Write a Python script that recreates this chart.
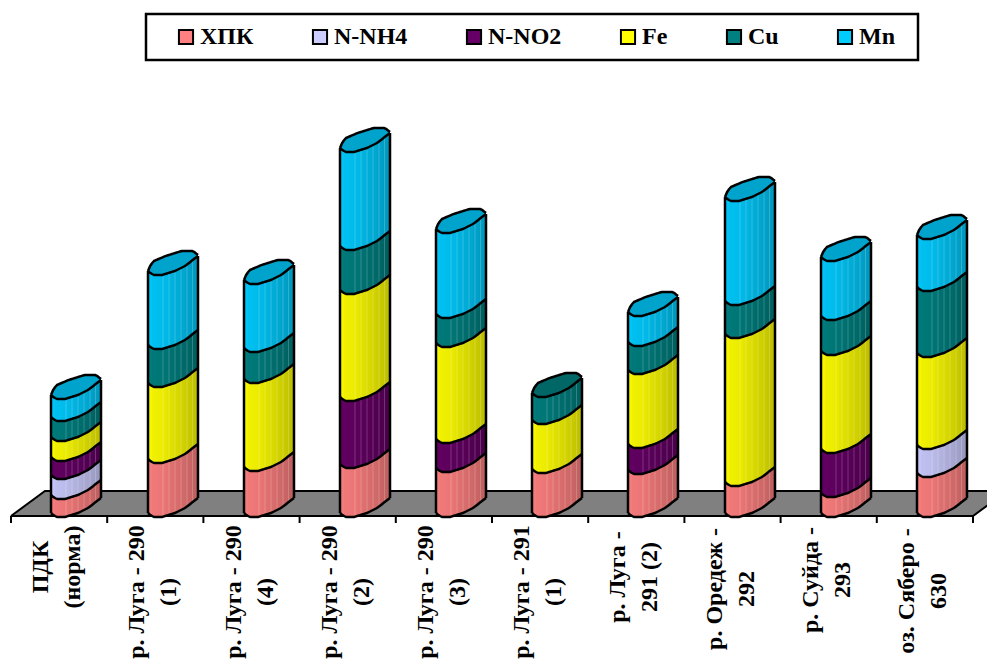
import numpy as np, pandas as pd, altair as alt

CATS = [["ПДК","(норма)"],["р. Луга - 290","(1)"],["р. Луга - 290","(4)"],["р. Луга - 290","(2)"],
        ["р. Луга - 290","(3)"],["р. Луга - 291","(1)"],["р. Луга -","291 (2)"],["р. Оредеж -","292"],
        ["р. Суйда -","293"],["оз. Сяберо -","630"]]
LABEL_MID = [-51,-76,-76,-76,-76,-76,-61,-73,-64,-75]
SERIES = ["ХПК","N-NH4","N-NO2","Fe","Cu","Mn"]
COLORS = ["#FF8080","#CCCCFF","#660066","#FFFF00","#008080","#00CCFF"]
XPK  = [18,54,46,49,45,44,43,31,20,40]
NH4  = [20,0,0,0,0,0,0,0,0,28]
NO2  = [18,0,0,67,29,0,26,0,44,0]
FE   = [20,76,88,107,96,49,74,148,98,92]
CU   = [20,38,31,44,29,27,28,33,35,66]
MN   = [22,74,68,98,85,0,30,104,59,52]
VALUES = [XPK,NH4,NO2,FE,CU,MN]
BASE = 3
LOW_T=[0,.06,.12,.28,.54,.74,1]; LOW_O=[0,-2.5,-4,-4,0,5,15]
UP_T=[0,.05,.12,.35,.67,.9,1]; UP_O=[0,6,10,15,20,20,16]
SHADE_T=[0,.1,.3,.42,.54,.66,.78,.89,1]; SHADE_O=[0,.06,.08,.11,.14,.17,.2,.23,.27]
BAND_T=[.3,.42,.54,.66,.78,.89]
TS = np.linspace(0,1,26)
PITCH=96.2; W=50/PITCH
lo=lambda t: np.interp(t,LOW_T,LOW_O); up=lambda t: np.interp(t,UP_T,UP_O)
strips=[];lines=[];caps=[];pale=[]
for i in range(len(CATS)):
    x0=(round(51.3+PITCH*i)-11)/PITCH
    v=BASE; last=None; curves=[v]
    for s,ser in enumerate(SERIES):
        h=VALUES[s][i]
        if h<=0: continue
        for a,b in zip(TS[:-1],TS[1:]):
            m=(a+b)/2
            strips.append(dict(x=x0+W*a,x2=x0+W*b,y=v+lo(m),y2=v+h+lo(m),s=ser,o=float(np.interp(m,SHADE_T,SHADE_O))))
        v+=h; last=ser; curves.append(v)
    for a,b in zip(TS[:-1],TS[1:]):
        m=(a+b)/2
        caps.append(dict(x=x0+W*a,x2=x0+W*b,y=v+lo(m),y2=v+up(m),s=last,o=.2))
    for t in BAND_T:
        pale.append(dict(x=x0+W*t,y=BASE+lo(t),y2=v+lo(t)))
    for k,c in enumerate(curves):
        for j,t in enumerate(TS):
            lines.append(dict(g=f"{i}c{k}",x=x0+W*t,y=c+lo(t),n=j))
    for j,t in enumerate(TS):
        lines.append(dict(g=f"{i}u",x=x0+W*t,y=v+up(t),n=j))
    lines += [dict(g=f"{i}l",x=x0,y=BASE,n=0),dict(g=f"{i}l",x=x0,y=v,n=1),
              dict(g=f"{i}r",x=x0+W,y=BASE+lo(1),n=0),dict(g=f"{i}r",x=x0+W,y=v+lo(1),n=1)]
strips=pd.DataFrame(strips); caps=pd.DataFrame(caps); lines=pd.DataFrame(lines); pale=pd.DataFrame(pale)
WID=979; H=652
XS=alt.Scale(domain=[-3/PITCH,(WID-3)/PITCH],nice=False,zero=False)
X=alt.X("x:Q",scale=XS,axis=None)
Y=alt.Y("y:Q",scale=alt.Scale(domain=[508-H,508],nice=False,zero=False),axis=None)
DEPTH=34/PITCH
fr=[]
for r in range(25):
    m=r+.5
    fr.append(dict(x=DEPTH*m/25,x2=10+DEPTH*m/25,y=r,y2=r+1))
floor=pd.DataFrame(fr)
fl=pd.DataFrame(dict(x=[0,DEPTH,10+DEPTH,10,0],y=[0,25,25,0,0],n=range(5)))
ticks=pd.DataFrame(dict(x=list(range(11)),y=[0]*11,y2=[-7]*11))
labs=[]
for i,c in enumerate(CATS):
    labs.append(dict(x=i+.5-18/PITCH,y=LABEL_MID[i],t=c[0]))
    labs.append(dict(x=i+.5+14/PITCH,y=LABEL_MID[i],t=c[1]))
labs=pd.DataFrame(labs)
box=pd.DataFrame(dict(x=[(146-11)/PITCH],x2=[(918-11)/PITCH],y=[516-14],y2=[516-60]))
FONT="Liberation Serif"
c_box=alt.Chart(box).mark_rect(fill="white",stroke="black",strokeWidth=2.5).encode(X,x2="x2:Q",y=Y,y2="y2:Q")
c_floor=alt.Chart(floor).mark_rect(color="#808080",clip=True).encode(X,x2="x2:Q",y=Y,y2="y2:Q")
c_fl=alt.Chart(fl).mark_line(color="black",strokeWidth=2,clip=True).encode(X,Y,order="n:Q")
c_ticks=alt.Chart(ticks).mark_rule(color="black",strokeWidth=2).encode(X,Y,y2="y2:Q")
legend=alt.Legend(title=None,orient="none",legendX=166,legendY=17,columns=6,gridAlign="each",columnPadding=54,
    symbolType="square",symbolSize=200,symbolStrokeColor="black",symbolStrokeWidth=2,labelFont=FONT,labelFontSize=24,
    labelFontWeight="bold",labelColor="black",padding=0,labelLimit=200,symbolOpacity=1,labelOffset=2)
CS=alt.Scale(domain=SERIES,range=COLORS)
c_strips=alt.Chart(strips).mark_rect().encode(X,x2="x2:Q",y=Y,y2="y2:Q",color=alt.Color("s:N",scale=CS,legend=legend))
c_shade=alt.Chart(strips).mark_rect(color="black").encode(X,x2="x2:Q",y=Y,y2="y2:Q",opacity=alt.Opacity("o:Q",scale=None))
c_pale=alt.Chart(pale).mark_rule(color="white",opacity=.2,strokeWidth=1).encode(X,Y,y2="y2:Q")
c_caps=alt.Chart(caps).mark_rect().encode(X,x2="x2:Q",y=Y,y2="y2:Q",color=alt.Color("s:N",scale=CS,legend=legend))
c_capshade=alt.Chart(caps).mark_rect(color="black").encode(X,x2="x2:Q",y=Y,y2="y2:Q",opacity=alt.Opacity("o:Q",scale=None))
c_lines=alt.Chart(lines).mark_line(color="black",strokeWidth=2.5,strokeJoin="round").encode(X,Y,detail="g:N",order="n:Q")
c_text=alt.Chart(labs).mark_text(angle=270,font=FONT,fontSize=24,fontWeight="bold",color="black",align="center",baseline="middle").encode(X,Y,text="t:N")
chart=alt.layer(c_box,c_floor,c_fl,c_ticks,c_strips,c_shade,c_pale,c_caps,c_capshade,c_lines,c_text).properties(
    width=WID,height=H,padding=0,autosize=alt.AutoSizeParams(type="none")
).configure_view(stroke=None).resolve_scale(color="shared")
chart.save("out.html",embed_options={"renderer":"svg","actions":False})
